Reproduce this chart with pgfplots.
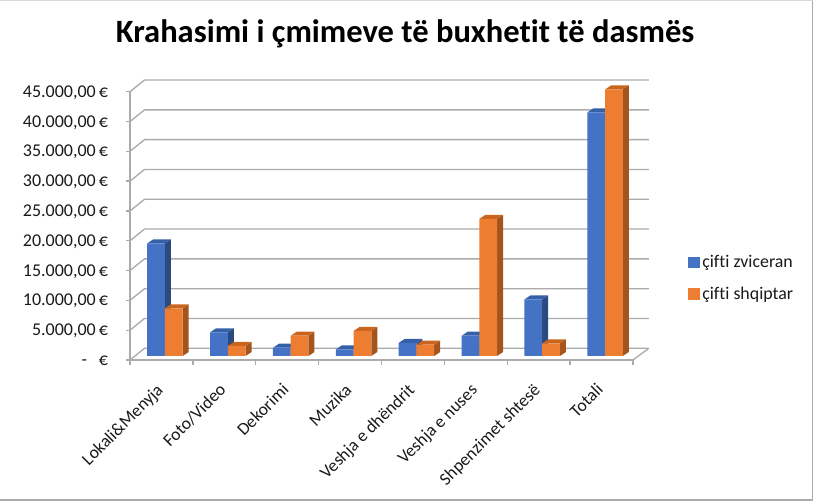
\documentclass[border=0pt]{standalone}
\usepackage{fontspec}
\setmainfont[Ligatures=NoCommon]{Carlito}
\usepackage{pgfplots}
\pgfplotsset{compat=1.18}
\definecolor{bf}{HTML}{4472C4}
\definecolor{bs}{HTML}{2B4A80}
\definecolor{bt}{HTML}{3560A8}
\definecolor{of}{HTML}{ED7D31}
\definecolor{os}{HTML}{A5541E}
\definecolor{ot}{HTML}{C9651F}
\definecolor{gl}{HTML}{ABABAB}
\definecolor{tc}{HTML}{1A1A1A}
\newcommand\Faces[4]{%
 \pgfmathsetmacro\xr{#1+0.2814}%
 \pgfmathsetmacro\xd{#1+0.0954}%
 \pgfmathsetmacro\xe{#1+0.3768}%
 \edef\vt{\the\numexpr#2+671\relax}%
 \edef\tmp{\noexpand\addplot[fill=#3,draw=none,forget plot,yshift=3pt] coordinates {(\xr,0) (\xe,671) (\xe,\vt) (\xr,#2)};
 \noexpand\addplot[fill=#4,draw=none,forget plot,yshift=3pt] coordinates {(#1,#2) (\xd,\vt) (\xe,\vt) (\xr,#2)};}%
 \tmp}
\begin{document}
\begin{tikzpicture}[x=0.75pt,y=0.75pt]
\useasboundingbox (0,0) rectangle (813,502);
\begin{axis}[
  at={(97.5pt,106.5pt)},anchor=south west,
  scale only axis,width=377.25pt,height=201.2pt,
  clip=false,
  scaled y ticks=false,
  xmin=0,xmax=8,ymin=0,ymax=45000,
  axis x line*=bottom,axis y line*=left,
  axis line style={gl,line width=1pt,-},
  xtick={0.5,1.5,2.5,3.5,4.5,5.5,6.5,7.5},
  xticklabels={Lokali\&Menyja,Foto/Video,Dekorimi,Muzika,Veshja e dhëndrit,Veshja e nuses,Shpenzimet shtesë,Totali},
  minor xtick={0,1,2,3,4,5,6,7,8},
  major x tick style={draw=none},
  minor x tick style={gl,line width=1pt},
  y tick style={gl,line width=1pt},
  tick align=outside,
  major tick length=3pt,minor tick length=3.5pt,
  ytick={0,5000,10000,15000,20000,25000,30000,35000,40000,45000},
  yticklabels={-\hspace{0.65em}€,{5.000,00\,€},{10.000,00\,€},{15.000,00\,€},{20.000,00\,€},{25.000,00\,€},{30.000,00\,€},{35.000,00\,€},{40.000,00\,€},{45.000,00\,€}},
  yticklabel style={font=\fontsize{13.5}{15}\selectfont,text=tc,xshift=-10pt,yshift=-0.6pt,anchor=east},
  xticklabel style={font=\fontsize{13.2}{15}\selectfont,text=tc,rotate=45,anchor=north east,xshift=-9.5pt,yshift=-3pt},
  title={Krahasimi i çmimeve të buxhetit të dasmës},
  title style={font=\bfseries\fontsize{24.4}{28}\selectfont,text=black,at={(0.547,1.185)},anchor=center},
  legend style={draw=none,fill=none,at={(1.109,0.402)},anchor=north west,font=\fontsize{13.4}{15}\selectfont,text=tc,row sep=9pt,inner sep=0pt,/tikz/column 2/.style={column sep=0pt}},
  legend cell align=left,
]
\addlegendimage{legend image code/.code={\fill[bf] (0,-4.1pt) rectangle (8.25pt,4.1pt);}}
\addlegendentry{çifti zviceran}
\addlegendimage{legend image code/.code={\fill[of] (0,-4.1pt) rectangle (8.25pt,4.1pt);}}
\addlegendentry{çifti shqiptar}
\pgfplotsinvokeforeach{0,5000,10000,15000,20000,25000,30000,35000,40000,45000}{
  \draw[gl,line width=1pt] (axis cs:0,#1) -- (axis cs:0.2305,\the\numexpr#1+1962\relax) -- (axis cs:8.251,\the\numexpr#1+1962\relax);
}
\draw[gl,line width=1pt] (axis cs:8,0) -- (axis cs:8.251,1962);

\Faces{0.275}{18900}{bs}{bt}
\Faces{1.275}{3980}{bs}{bt}
\Faces{2.275}{1400}{bs}{bt}
\Faces{3.275}{1120}{bs}{bt}
\Faces{4.275}{2200}{bs}{bt}
\Faces{5.275}{3400}{bs}{bt}
\Faces{6.275}{9500}{bs}{bt}
\Faces{7.275}{40870}{bs}{bt}
\addplot[ybar,forget plot,bar width=13.3pt,bar shift=-4.03pt,fill=bf,draw=none,yshift=3pt]
 coordinates {(0.5,18900)(1.5,3980)(2.5,1400)(3.5,1120)(4.5,2200)(5.5,3400)(6.5,9500)(7.5,40870)};
\Faces{0.5564}{8000}{os}{ot}
\Faces{1.5564}{1680}{os}{ot}
\Faces{2.5564}{3400}{os}{ot}
\Faces{3.5564}{4200}{os}{ot}
\Faces{4.5564}{1900}{os}{ot}
\Faces{5.5564}{23000}{os}{ot}
\Faces{6.5564}{2130}{os}{ot}
\Faces{7.5564}{44730}{os}{ot}
\addplot[ybar,forget plot,bar width=13.3pt,bar shift=9.27pt,fill=of,draw=none,yshift=3pt]
 coordinates {(0.5,8000)(1.5,1680)(2.5,3400)(3.5,4200)(4.5,1900)(5.5,23000)(6.5,2130)(7.5,44730)};
\end{axis}
\draw[gl,line width=1pt] (812.5,1) -- (812.5,502);
\draw[gl,line width=2pt] (0,2) -- (813,2);
\draw[black!15,line width=1pt] (0,501.5) -- (813,501.5);
\end{tikzpicture}
\end{document}
